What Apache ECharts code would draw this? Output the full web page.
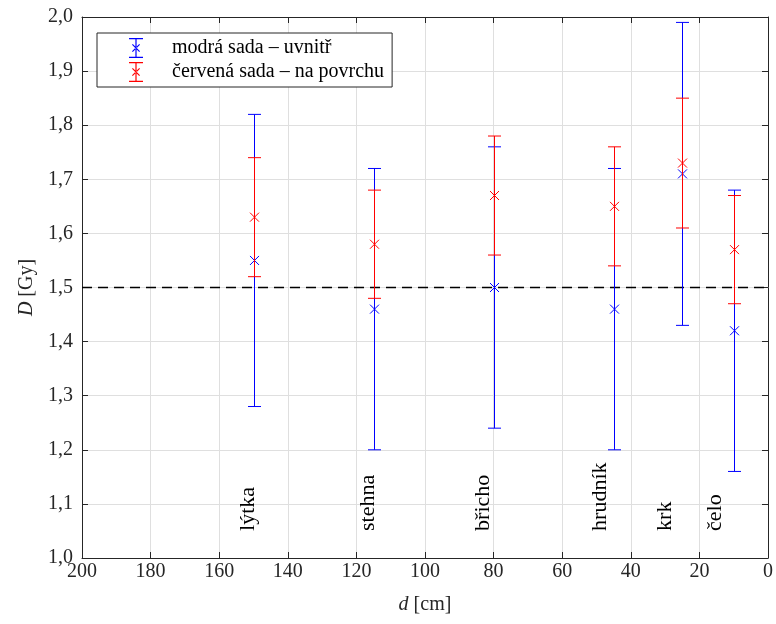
<!DOCTYPE html>
<html>
<head>
<meta charset="utf-8">
<script src="https://cdn.jsdelivr.net/npm/echarts@6/dist/echarts.min.js"></script>
<style>
  html, body { margin: 0; padding: 0; background: #fff; }
  #chart { width: 776px; height: 624px; }
</style>
</head>
<body>
<div id="chart"></div>
<script>
// vzdálenost od zdroje [cm]
const positions = [150, 115, 80, 45, 25, 10];
const places = ['lýtka', 'stehna', 'břicho', 'hrudník', 'krk', 'čelo'];
const placeLabelX = [151.5, 116.5, 83, 49, 30, 15.5];
const placeLabelY = 1.05;

// modrá sada - uvnitř
const blueMean = [1.55, 1.46, 1.50, 1.46, 1.71, 1.42];
const blueLow  = [1.28, 1.20, 1.24, 1.20, 1.43, 1.16];
const blueHigh = [1.82, 1.72, 1.76, 1.72, 1.99, 1.68];

// červená sada - na povrchu
const redMean = [1.63, 1.58, 1.67, 1.65, 1.73, 1.57];
const redLow  = [1.52, 1.48, 1.56, 1.54, 1.61, 1.47];
const redHigh = [1.74, 1.68, 1.78, 1.76, 1.85, 1.67];

const referenceDose = 1.5;

const FONT = '"Liberation Serif", "DejaVu Serif", serif';
const INK = '#262626';
const BLUE = '#0000ff';
const RED = '#ff0000';

// ikona do legendy: chybová úsečka s křížkem (vyplněné tenké tvary)
const ERRBAR_ICON = 'path://M0,0h14v1.2h-14z M0,18.8h14v1.2h-14z M6.4,0h1.2v20h-1.2z ' +
  'M3,6.8L3.8,6L11,13.2L10.2,14z M11,6.8L10.2,6L3,13.2L3.8,14z';

function rows(low, high, mean) {
  return positions.map((x, i) => [x, low[i], high[i], mean[i]]);
}

function errorBar(color) {
  return function (params, api) {
    const x = api.value(0);
    const lo = api.coord([x, api.value(1)]);
    const hi = api.coord([x, api.value(2)]);
    const mid = api.coord([x, api.value(3)]);
    const cx = Math.round(lo[0]) + 0.5;
    const cap = 6.5;
    const m = 4.5;
    const style = { stroke: color, lineWidth: 1, fill: null };
    const seg = (x1, y1, x2, y2) => ({ type: 'line', shape: { x1, y1, x2, y2 }, style });
    return {
      type: 'group',
      children: [
        seg(cx, hi[1], cx, lo[1]),
        seg(cx - cap, hi[1], cx + cap, hi[1]),
        seg(cx - cap, lo[1], cx + cap, lo[1]),
        seg(cx - m, mid[1] - m, cx + m, mid[1] + m),
        seg(cx - m, mid[1] + m, cx + m, mid[1] - m)
      ]
    };
  };
}

const comma = v => v.toFixed(1).replace('.', ',');

const chart = echarts.init(document.getElementById('chart'));

chart.setOption({
  animation: false,
  textStyle: { fontFamily: FONT, color: INK },
  grid: { left: 82, right: 8, top: 17, bottom: 66 },
  legend: {
    left: 97,
    top: 33,
    orient: 'vertical',
    backgroundColor: '#fff',
    borderColor: INK,
    borderWidth: 1,
    padding: [5, 8, 5, 32],
    itemWidth: 62,
    itemHeight: 20,
    itemGap: 4,
    textStyle: { fontFamily: FONT, fontSize: 20, color: '#000' },
    data: [
      { name: 'modrá sada – uvnitř', icon: ERRBAR_ICON, itemStyle: { color: BLUE } },
      { name: 'červená sada – na povrchu', icon: ERRBAR_ICON, itemStyle: { color: RED } }
    ]
  },
  xAxis: [
    {
      type: 'value', min: 0, max: 200, interval: 20, inverse: true,
      name: '{i|d} [cm]', nameLocation: 'middle', nameGap: 37,
      nameTextStyle: { fontSize: 20, color: INK, rich: { i: { fontStyle: 'italic', fontSize: 20, fontFamily: FONT } } },
      axisLine: { onZero: false, lineStyle: { color: INK } },
      axisTick: { inside: true, length: 6, lineStyle: { color: INK } },
      axisLabel: { fontSize: 20, color: INK, margin: 4, showMinLabel: true, showMaxLabel: true },
      splitLine: { lineStyle: { color: '#dfdfdf' } }
    },
    {
      type: 'value', min: 0, max: 200, interval: 20, inverse: true, position: 'top',
      axisLine: { onZero: false, lineStyle: { color: INK } },
      axisTick: { inside: true, length: 6, lineStyle: { color: INK } },
      axisLabel: { show: false },
      splitLine: { show: false }
    }
  ],
  yAxis: [
    {
      type: 'value', min: 1, max: 2, interval: 0.1,
      name: '{i|D} [Gy]', nameLocation: 'middle', nameGap: 43, nameRotate: 90,
      nameTextStyle: { fontSize: 20, color: INK, rich: { i: { fontStyle: 'italic', fontSize: 20, fontFamily: FONT } } },
      axisLine: { onZero: false, lineStyle: { color: INK } },
      axisTick: { inside: true, length: 6, lineStyle: { color: INK } },
      axisLabel: { fontSize: 20, color: INK, margin: 9, formatter: comma, showMinLabel: true, showMaxLabel: true },
      splitLine: { lineStyle: { color: '#dfdfdf' } }
    },
    {
      type: 'value', min: 1, max: 2, interval: 0.1, position: 'right',
      axisLine: { onZero: false, lineStyle: { color: INK } },
      axisTick: { inside: true, length: 6, lineStyle: { color: INK } },
      axisLabel: { show: false },
      splitLine: { show: false }
    }
  ],
  series: [
    {
      name: 'reference',
      type: 'line',
      data: [[200, referenceDose], [0, referenceDose]],
      symbol: 'none',
      silent: true,
      lineStyle: { color: '#000', width: 1.5, type: [10, 6] },
      z: 1
    },
    {
      name: 'modrá sada – uvnitř',
      type: 'custom',
      itemStyle: { color: BLUE },
      data: rows(blueLow, blueHigh, blueMean),
      encode: { x: 0, y: [1, 2, 3] },
      renderItem: errorBar(BLUE),
      z: 2
    },
    {
      name: 'červená sada – na povrchu',
      type: 'custom',
      itemStyle: { color: RED },
      data: rows(redLow, redHigh, redMean),
      encode: { x: 0, y: [1, 2, 3] },
      renderItem: errorBar(RED),
      z: 3
    },
    {
      name: 'places',
      type: 'custom',
      silent: true,
      data: places.map((p, i) => [placeLabelX[i], placeLabelY]),
      encode: { x: 0, y: 1 },
      renderItem: function (params, api) {
        const p = api.coord([api.value(0), api.value(1)]);
        return {
          type: 'text',
          x: p[0],
          y: p[1],
          rotation: Math.PI / 2,
          style: {
            text: places[params.dataIndex],
            fill: '#000',
            font: '22px ' + FONT,
            align: 'left',
            verticalAlign: 'middle'
          }
        };
      },
      z: 4
    }
  ]
});
</script>
</body>
</html>
